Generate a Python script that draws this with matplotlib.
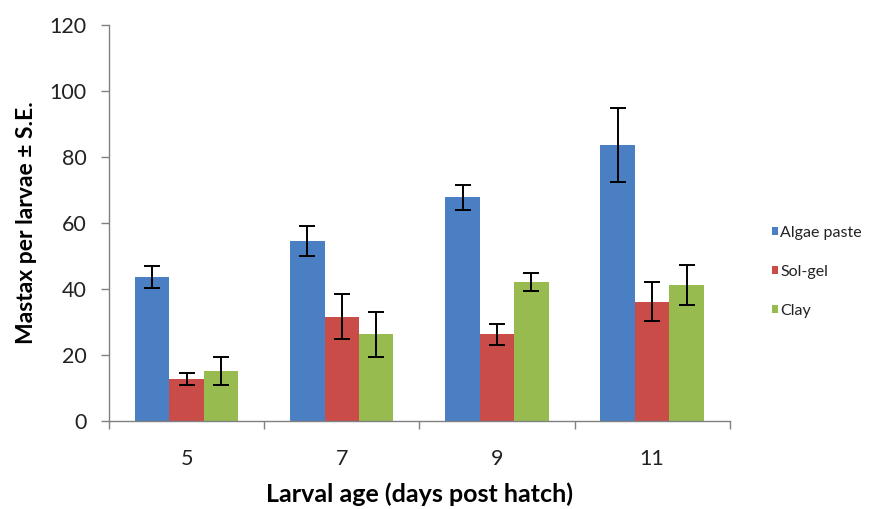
import matplotlib
matplotlib.use("Agg")
import matplotlib.pyplot as plt
from matplotlib.patches import Patch
import numpy as np

plt.rcParams['font.family'] = ['Lato', 'DejaVu Sans']

ages = ["5", "7", "9", "11"]
series_names = ["Algae paste", "Sol-gel", "Clay"]
algae_paste = [43.7, 54.5, 67.8, 83.6]
algae_paste_se = [3.3, 4.5, 3.8, 11.3]
sol_gel = [12.7, 31.6, 26.3, 36.2]
sol_gel_se = [1.7, 6.8, 3.2, 6.0]
clay = [15.2, 26.3, 42.2, 41.2]
clay_se = [4.3, 6.8, 2.7, 6.1]
y_ticks = [0, 20, 40, 60, 80, 100, 120]

colors = ["#4a7fc3", "#c94c49", "#98bb4f"]

fig = plt.figure(figsize=(8.75, 5.09), dpi=100)
ax = fig.add_axes([0.1246, 0.1729, 0.834 - 0.1246, 0.951 - 0.1729])

x = np.arange(len(ages))
width = 0.222
values = [algae_paste, sol_gel, clay]
errors = [algae_paste_se, sol_gel_se, clay_se]
for i, (vals, errs, col) in enumerate(zip(values, errors, colors)):
    pos = x + (i - 1) * width
    ax.bar(pos, vals, width=width, color=col, edgecolor='none', zorder=2)
    ax.errorbar(pos, vals, yerr=errs, fmt='none', ecolor='black',
                elinewidth=1.4, capsize=6, capthick=1.4, zorder=3)

ax.set_xlim(-0.5, len(ages) - 0.5)
ax.set_ylim(0, 120)
ax.set_yticks(y_ticks)
ax.set_xticks(x)
ax.set_xticklabels(ages)
ax.set_xticks(np.arange(-0.5, len(ages), 1.0), minor=True)
ax.tick_params(axis='x', which='major', length=0, pad=20, labelsize=15.5, colors='#222222')
ax.tick_params(axis='x', which='minor', length=6, width=1, color='#808080', direction='out')
ax.tick_params(axis='y', which='major', length=6, width=1, color='#808080', direction='out',
               pad=10, labelsize=15.5, labelcolor='#222222')

for side in ['top', 'right']:
    ax.spines[side].set_visible(False)
for side in ['left', 'bottom']:
    ax.spines[side].set_color('#808080')
    ax.spines[side].set_linewidth(1)

ax.set_ylabel("Mastax per larvae \u00b1 S.E.", fontsize=16.5, fontweight='bold', labelpad=9)
ax.set_xlabel("Larval age (days post hatch)", fontsize=18, fontweight='bold', labelpad=10)

handles = [Patch(facecolor=c, edgecolor='none') for c in colors]
fig.legend(handles, series_names, loc='center left', bbox_to_anchor=(0.866, 0.466),
           frameon=False, fontsize=11.5, handlelength=0.35, handleheight=0.45,
           handletextpad=0.15, labelspacing=1.57, labelcolor='#222222')

fig.savefig("out.png", dpi=100)
